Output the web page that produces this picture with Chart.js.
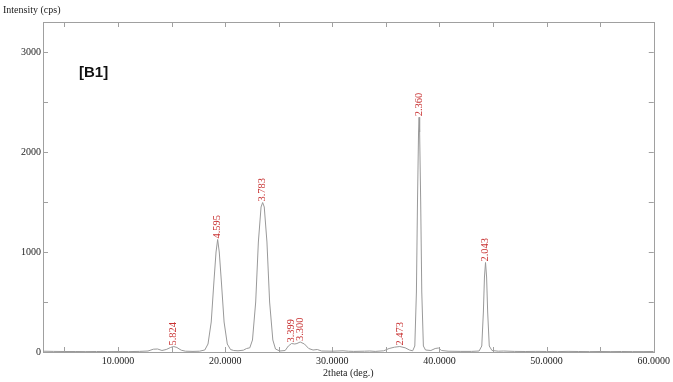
<!DOCTYPE html>
<html>
<head>
<meta charset="utf-8">
<script src="https://cdn.jsdelivr.net/npm/chart.js@4.4.0/dist/chart.umd.min.js"></script>
<style>
  html, body { margin: 0; padding: 0; background: #fff; }
  #wrap { width: 673px; height: 382px; }
</style>
</head>
<body>
<div id="wrap"><canvas id="xrd"></canvas></div>
<script>
// XRD pattern
const twoTheta = [3, 4, 5, 6, 7, 8, 9, 10, 11, 12, 12.8, 13.3, 13.7, 14.1, 14.5, 14.9, 15.2, 15.5, 15.9, 16.3,
  17, 17.6, 18.1, 18.4, 18.7, 18.95, 19.15, 19.3, 19.45, 19.65, 19.9, 20.2, 20.5, 20.8, 21.2, 21.7, 22.0, 22.3,
  22.55, 22.85, 23.1, 23.35, 23.5, 23.65, 23.9, 24.15, 24.45, 24.7, 25.1, 25.6, 25.9, 26.2, 26.5, 26.7, 27.0,
  27.4, 27.8, 28.2, 28.6, 29, 30, 31, 31.5, 32, 33, 33.5, 34, 34.8, 35.3, 35.8, 36.3, 36.8, 37.2, 37.5, 37.7,
  37.85, 37.95, 38.05, 38.1, 38.15, 38.25, 38.35, 38.5, 38.7, 39.2, 39.6, 39.9, 40.2, 40.8, 42, 43, 43.7,
  43.95, 44.1, 44.2, 44.3, 44.4, 44.5, 44.65, 44.9, 45.5, 46, 47, 48, 49, 50, 51, 52, 53, 54, 55, 56, 57,
  58, 59, 60];
const counts = [8, 6, 5, 5, 4, 5, 4, 5, 4, 6, 10, 28, 30, 15, 25, 45, 55, 45, 18, 8,
  6, 8, 20, 80, 300, 700, 1000, 1125, 1000, 700, 300, 80, 25, 15, 12, 18, 35, 42,
  120, 500, 1100, 1450, 1495, 1450, 1100, 500, 120, 30, 10, 15, 60, 85, 80, 85, 100,
  80, 35, 20, 25, 10, 8, 12, 8, 6, 8, 10, 6, 12, 35, 48, 55, 42, 20, 12, 60,
  600, 1500, 2200, 2347, 2200, 1500, 600, 60, 20, 15, 35, 40, 15, 8, 6, 6, 10,
  60, 400, 750, 895, 750, 400, 60, 15, 8, 10, 6, 5, 6, 5, 4, 6, 5, 4, 5, 4, 5,
  4, 4, 5];

// labelled peaks (d-spacing in Å)
const peakTheta = [15.2, 19.3, 23.5, 26.2, 27.0, 36.3, 38.1, 44.3];
const peakCounts = [55, 1125, 1495, 85, 100, 55, 2347, 895];
const peakLabels = ["5.824", "4.595", "3.783", "3.399", "3.300", "2.473", "2.360", "2.043"];

const xTicks = [5, 10, 15, 20, 25, 30, 35, 40, 45, 50, 55, 60];
const yTicks = [0, 500, 1000, 1500, 2000, 2500, 3000];

const serif = "'Liberation Serif', 'Times New Roman', serif";

const frame = {
  id: "frame",
  afterDraw(chart) {
    const ctx = chart.ctx;
    const a = chart.chartArea;
    const xs = chart.scales.x;
    const ys = chart.scales.y;
    ctx.save();
    ctx.strokeStyle = "#a0a0a0";
    ctx.lineWidth = 1;
    ctx.strokeRect(Math.round(a.left) + 0.5, Math.round(a.top) + 0.5,
      Math.round(a.right - a.left), Math.round(a.bottom - a.top));
    // inward ticks on all four sides
    ctx.beginPath();
    xTicks.forEach(v => {
      const px = Math.round(xs.getPixelForValue(v)) + 0.5;
      ctx.moveTo(px, a.bottom); ctx.lineTo(px, a.bottom - 5);
      ctx.moveTo(px, a.top); ctx.lineTo(px, a.top + 5);
    });
    yTicks.forEach(v => {
      const py = Math.round(ys.getPixelForValue(v)) + 0.5;
      ctx.moveTo(a.left, py); ctx.lineTo(a.left + 5, py);
      ctx.moveTo(a.right, py); ctx.lineTo(a.right - 5, py);
    });
    ctx.stroke();

    // peak labels, rotated
    ctx.fillStyle = "#c83232";
    ctx.font = "10.5px " + serif;
    ctx.textAlign = "left";
    ctx.textBaseline = "middle";
    peakTheta.forEach((t, i) => {
      const px = xs.getPixelForValue(t);
      const py = ys.getPixelForValue(peakCounts[i]);
      ctx.save();
      ctx.translate(px, py - 1);
      ctx.rotate(-Math.PI / 2);
      ctx.fillText(peakLabels[i], 0, 0);
      ctx.restore();
    });

    // y title and sample tag
    ctx.fillStyle = "#222";
    ctx.font = "10px " + serif;
    ctx.textBaseline = "middle";
    ctx.fillText("Intensity (cps)", 3, 10);
    ctx.font = "bold 15px 'Liberation Sans', Arial, sans-serif";
    ctx.fillStyle = "#111";
    ctx.fillText("[B1]", 79, 73);
    ctx.restore();
  }
};

new Chart(document.getElementById("xrd"), {
  type: "line",
  data: {
    datasets: [{
      data: twoTheta.map((t, i) => ({ x: t, y: counts[i] })),
      borderColor: "#999999",
      borderWidth: 1,
      pointRadius: 0,
      tension: 0,
      fill: false
    }]
  },
  options: {
    responsive: true,
    maintainAspectRatio: false,
    animation: false,
    layout: { padding: { top: 22, right: 19, left: 0, bottom: 0 } },
    plugins: { legend: { display: false }, tooltip: { enabled: false } },
    scales: {
      x: {
        type: "linear",
        min: 3,
        max: 60,
        grid: { display: false, drawTicks: false },
        border: { display: false },
        afterBuildTicks: s => { s.ticks = xTicks.map(v => ({ value: v })); },
        afterFit: s => { s.height = 30; },
        ticks: {
          autoSkip: false,
          maxRotation: 0,
          padding: 3,
          color: "#222",
          font: { family: serif, size: 10 },
          callback: v => (v % 10 === 0 ? v.toFixed(4) : "")
        },
        title: {
          display: true,
          text: "2theta (deg.)",
          color: "#222",
          font: { family: serif, size: 10 },
          padding: { top: 0, bottom: 3 }
        }
      },
      y: {
        min: 0,
        max: 3300,
        grid: { display: false, drawTicks: false },
        border: { display: false },
        afterBuildTicks: s => { s.ticks = yTicks.map(v => ({ value: v })); },
        afterFit: s => { s.width = 43; },
        ticks: {
          padding: 2,
          color: "#222",
          font: { family: serif, size: 10 },
          callback: v => (v % 1000 === 0 ? String(v) : "")
        }
      }
    }
  },
  plugins: [frame]
});
</script>
</body>
</html>
